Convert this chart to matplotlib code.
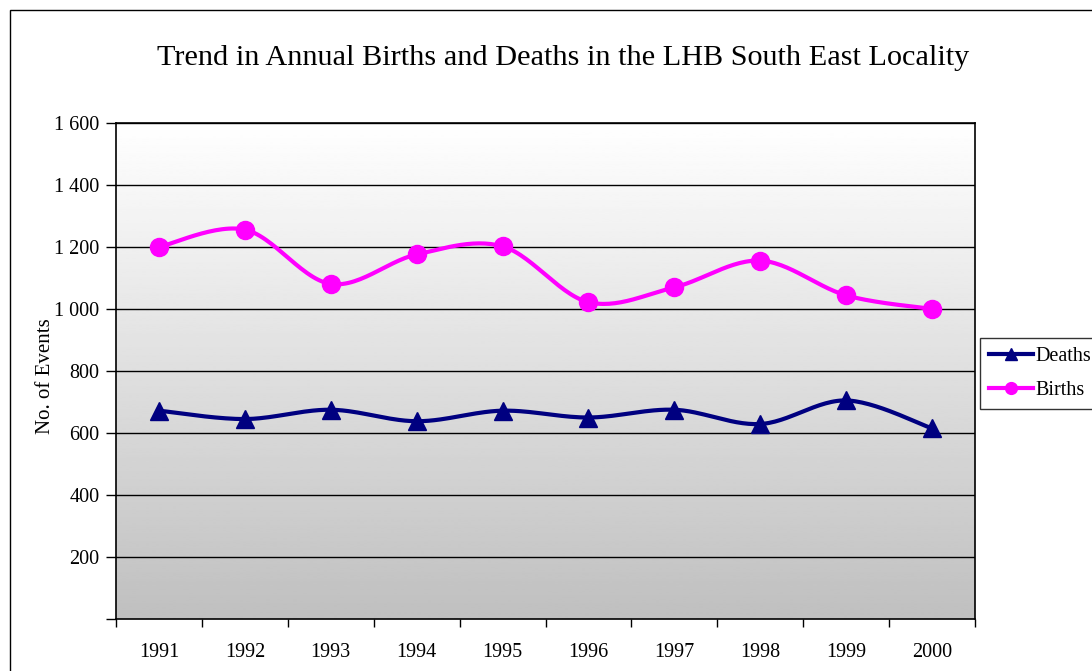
import numpy as np
import matplotlib
matplotlib.use("Agg")
import matplotlib.pyplot as plt
from matplotlib.lines import Line2D
from matplotlib.patches import Rectangle

years = ["1991", "1992", "1993", "1994", "1995", "1996", "1997", "1998", "1999", "2000"]
births = [1200, 1256, 1081, 1176, 1202, 1022, 1070, 1156, 1044, 1000]
deaths = [672, 645, 675, 638, 672, 650, 675, 629, 705, 615]
ytick_vals = [200, 400, 600, 800, 1000, 1200, 1400, 1600]
ytick_labels = ["200", "400", "600", "800", "1 000", "1 200", "1 400", "1 600"]

plt.rcParams['font.family'] = ['Liberation Serif', 'DejaVu Serif']


def smooth(xs, ys, n=30):
    xs = np.asarray(xs, float)
    ys = np.asarray(ys, float)
    P = np.column_stack([xs, ys])
    Pext = np.vstack([P[0], P, P[-1]])
    out = []
    for i in range(len(P) - 1):
        p0, p1, p2, p3 = Pext[i], Pext[i + 1], Pext[i + 2], Pext[i + 3]
        c1 = p1 + (p2 - p0) / 6.0
        c2 = p2 - (p3 - p1) / 6.0
        t = np.linspace(0, 1, n)[:, None]
        seg = ((1 - t) ** 3) * p1 + 3 * ((1 - t) ** 2) * t * c1 + 3 * (1 - t) * t ** 2 * c2 + t ** 3 * p2
        out.append(seg if i == 0 else seg[1:])
    out = np.vstack(out)
    return out[:, 0], out[:, 1]


fig = plt.figure(figsize=(10.92, 6.71), dpi=100)
W, H = 1092, 671
L, R, T, B = 116, 975, 123, 619
ax = fig.add_axes([L / W, 1 - B / H, (R - L) / W, (B - T) / H])

# gradient background
grad = np.linspace(1.0, 0.75, 256)[:, None]
ax.imshow(grad, cmap='gray', vmin=0, vmax=1, aspect='auto',
          extent=[0, 1, 0, 1], transform=ax.transAxes, zorder=0, interpolation='bilinear')

x = np.arange(len(years))
ax.set_xlim(-0.5, len(years) - 0.5)
ax.set_ylim(0, 1600)

for v in ytick_vals:
    ax.axhline(v, color='black', lw=1, zorder=1)

sx, sy = smooth(x, deaths)
ax.plot(sx, sy, color='#000080', lw=3, zorder=3, solid_capstyle='round')
ax.plot(x, deaths, ls='none', marker='^', color='#000080', ms=13, zorder=4)
sx, sy = smooth(x, births)
ax.plot(sx, sy, color='#ff00ff', lw=3, zorder=3, solid_capstyle='round')
ax.plot(x, births, ls='none', marker='o', color='#ff00ff', ms=13, zorder=4)

ax.set_xticks(np.arange(-0.5, len(years), 1.0))
ax.set_xticklabels([])
ax.set_xticks(x, minor=True)
ax.set_xticklabels(years, minor=True, fontsize=14.5)
ax.tick_params(axis='x', which='minor', length=0, pad=17)
ax.tick_params(axis='x', which='major', length=6, direction='out', width=1)

ax.set_yticks([0] + ytick_vals)
ax.set_yticklabels([""] + ytick_labels, fontsize=14.5)
ax.tick_params(axis='y', length=7, direction='out', width=1, pad=5)

for s in ['top', 'right', 'left', 'bottom']:
    ax.spines[s].set_color('black')
    ax.spines[s].set_linewidth(1.2)

fig.text(45 / W, 1 - 376 / H, "No. of Events", rotation=90, ha='center', va='center', fontsize=15)

fig.text(563 / W, 1 - 58 / H, "Trend in Annual Births and Deaths in the LHB South East Locality",
         ha='center', va='center', fontsize=21.8)

handles = [Line2D([], [], color='#000080', lw=3, marker='^', ms=8.5),
           Line2D([], [], color='#ff00ff', lw=3, marker='o', ms=8.5)]
leg = fig.legend(handles, ["Deaths", "Births"], loc='upper left',
                 bbox_to_anchor=(980 / W, 1 - 338 / H), fontsize=14.5, frameon=True,
                 fancybox=False, edgecolor='black', borderpad=0.45, handlelength=2.2,
                 handletextpad=0.1, labelspacing=0.75, borderaxespad=0)
leg.get_frame().set_linewidth(1)

# outer chart border
fig.add_artist(Rectangle((10 / W, -0.05), 1.2, 1 - 10 / H + 0.05, transform=fig.transFigure,
                         fill=False, edgecolor='black', lw=1))

fig.savefig("out.png", dpi=100)
